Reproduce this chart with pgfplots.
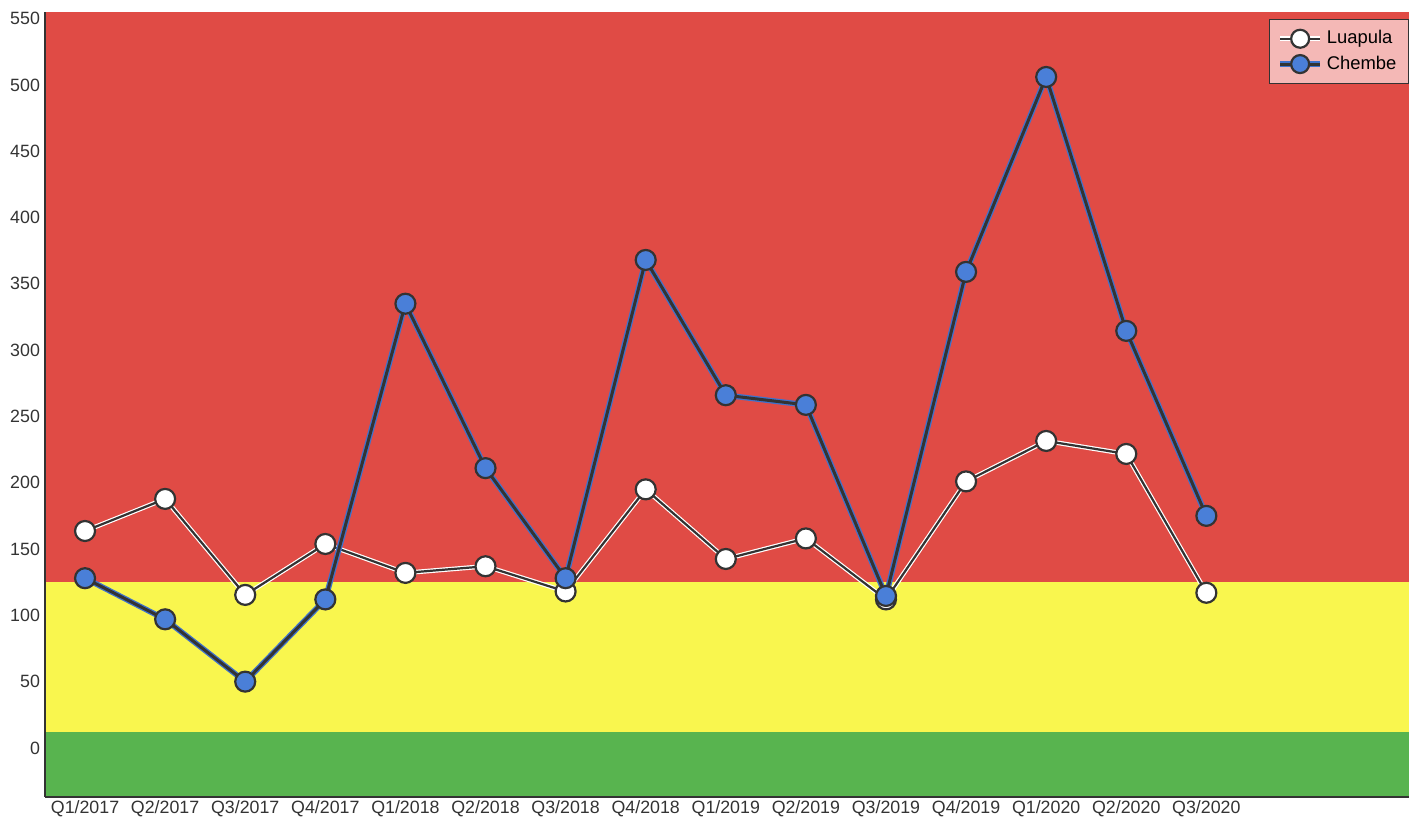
\documentclass[border=0pt]{standalone}
\usepackage{fontspec}
\setmainfont{Liberation Sans}
\usepackage{pgfplots}
\pgfplotsset{compat=1.18}
\definecolor{bgred}{HTML}{E04B45}
\definecolor{bgyellow}{HTML}{F9F64E}
\definecolor{bggreen}{HTML}{58B44F}
\definecolor{dark}{HTML}{333333}
\definecolor{cblue}{HTML}{4A7FD8}
\definecolor{lblue}{HTML}{3F72CC}
\definecolor{legpink}{HTML}{F4B8B6}
\begin{document}
\begin{tikzpicture}
\begin{axis}[
  at={(22.5pt,10.5pt)}, anchor=south west,
  scale only axis, width=682pt, height=392.5pt,
  xmin=-0.5, xmax=16.53, ymin=-37, ymax=555,
  xtick={0,...,14},
  xticklabels={Q1/2017,Q2/2017,Q3/2017,Q4/2017,Q1/2018,Q2/2018,Q3/2018,Q4/2018,Q1/2019,Q2/2019,Q3/2019,Q4/2019,Q1/2020,Q2/2020,Q3/2020},
  ytick={0,50,...,550},
  axis lines*=left,
  axis line style={dark, line width=0.6pt, -},
  major tick length=0pt,
  tick style={draw=none},
  ticklabel style={font=\fontsize{8.9}{10}\selectfont, text=dark},
  /pgf/number format/assume math mode=true,
  xticklabel style={yshift=1.5pt},
  yticklabel style={xshift=1pt},
  axis on top,
  clip=false,
  legend style={at={(1,1)}, anchor=north east, yshift=-3.5pt, xshift=0pt,
    fill=legpink, draw=dark, line width=0.6pt, font=\fontsize{9.2}{10}\selectfont,
    row sep=0.5pt, inner xsep=4pt, inner ysep=3.5pt},
  legend cell align=left,
]
\fill[bggreen] (axis cs:-0.5,-37) rectangle (axis cs:16.53,12);
\fill[bgyellow] (axis cs:-0.5,12) rectangle (axis cs:16.53,125);
\fill[bgred] (axis cs:-0.5,125) rectangle (axis cs:16.53,555);

% Luapula
\addplot[forget plot, white, line width=2.3pt, no marks] coordinates {
(0,163.6)(1,187.8)(2,115.4)(3,153.8)(4,132)(5,137)(6,118)(7,195)(8,142.5)(9,158)(10,112)(11,201)(12,231.5)(13,221.7)(14,117)};
\addplot[dark, line width=1.1pt, mark=*, mark size=5pt,
  mark options={fill=white, draw=dark, line width=1.1pt},
  legend image code/.code={
    \draw[white, line width=2.3pt] (0cm,0cm) -- (0.7cm,0cm);
    \draw[dark, line width=1.1pt] (0cm,0cm) -- (0.7cm,0cm);
    \draw[fill=white, draw=dark, line width=1.1pt] (0.35cm,0cm) circle (4.5pt);}
] coordinates {
(0,163.6)(1,187.8)(2,115.4)(3,153.8)(4,132)(5,137)(6,118)(7,195)(8,142.5)(9,158)(10,112)(11,201)(12,231.5)(13,221.7)(14,117)};
\addlegendentry{Luapula}

% Chembe
\addplot[forget plot, lblue, line width=2.8pt, no marks] coordinates {
(0,128)(1,97)(2,50)(3,112)(4,335)(5,211)(6,128)(7,368)(8,266)(9,258.7)(10,114.6)(11,359)(12,506)(13,314.5)(14,175)};
\addplot[dark, line width=1.5pt, mark=*, mark size=5pt,
  mark options={fill=cblue, draw=dark, line width=1.1pt},
  legend image code/.code={
    \draw[lblue, line width=2.8pt] (0cm,0cm) -- (0.7cm,0cm);
    \draw[dark, line width=1.5pt] (0cm,0cm) -- (0.7cm,0cm);
    \draw[fill=cblue, draw=dark, line width=1.1pt] (0.35cm,0cm) circle (4.5pt);}
] coordinates {
(0,128)(1,97)(2,50)(3,112)(4,335)(5,211)(6,128)(7,368)(8,266)(9,258.7)(10,114.6)(11,359)(12,506)(13,314.5)(14,175)};
\addlegendentry{Chembe}
\end{axis}
\pgfresetboundingbox
\path (0,0) rectangle (704.5pt,409pt);
\end{tikzpicture}
\end{document}
